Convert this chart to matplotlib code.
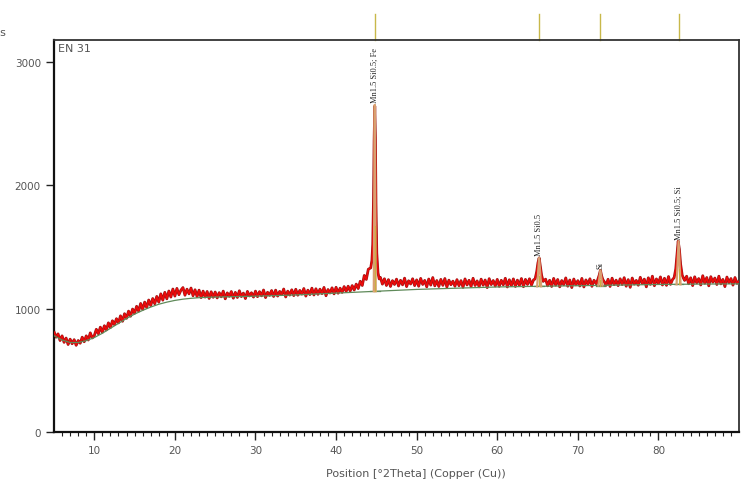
import numpy as np
import matplotlib.pyplot as plt
from matplotlib import transforms

# measured scan, 0.25 deg steps from 5 to 90
scan_start = 5.0
scan_step = 0.25
scan_counts = [
    812, 768, 795, 741, 779, 726, 761, 709, 752, 715,
    748, 702, 741, 719, 768, 731, 779, 745, 803, 762,
    781, 832, 796, 849, 808, 861, 827, 884, 846, 901,
    869, 918, 884, 941, 897, 958, 921, 979, 938, 996,
    962, 1018, 979, 1041, 993, 1052, 1008, 1069, 1024, 1081,
    1039, 1098, 1052, 1119, 1068, 1131, 1079, 1142, 1093, 1158,
    1101, 1163, 1112, 1149, 1170, 1108, 1157, 1119, 1166, 1104,
    1152, 1097, 1149, 1089, 1141, 1093, 1138, 1082, 1136, 1091,
    1134, 1086, 1129, 1095, 1141, 1079, 1127, 1099, 1138, 1084,
    1131, 1090, 1144, 1097, 1125, 1081, 1139, 1102, 1128, 1093,
    1141, 1096, 1137, 1103, 1150, 1089, 1132, 1107, 1146, 1098,
    1149, 1101, 1139, 1112, 1158, 1094, 1141, 1109, 1152, 1105,
    1156, 1108, 1147, 1117, 1162, 1101, 1149, 1113, 1165, 1110,
    1160, 1115, 1157, 1121, 1171, 1104, 1154, 1126, 1168, 1119,
    1172, 1124, 1165, 1131, 1178, 1139, 1181, 1142, 1186, 1150,
    1198, 1162, 1221, 1187, 1268, 1236, 1318, 1289, 1380, 2500,
    2000, 1280, 1252, 1198, 1241, 1187, 1234, 1179, 1226, 1195,
    1238, 1183, 1229, 1192, 1246, 1178, 1225, 1199, 1241, 1186,
    1232, 1181, 1244, 1195, 1228, 1176, 1239, 1190, 1251, 1184,
    1227, 1179, 1236, 1188, 1243, 1174, 1230, 1193, 1222, 1181,
    1234, 1185, 1226, 1172, 1240, 1191, 1229, 1178, 1245, 1187,
    1224, 1176, 1238, 1189, 1231, 1170, 1242, 1194, 1227, 1183,
    1236, 1180, 1229, 1192, 1245, 1175, 1233, 1186, 1240, 1179,
    1230, 1188, 1243, 1177, 1236, 1195, 1241, 1190, 1232, 1300,
    1380, 1400, 1300, 1230, 1238, 1184, 1229, 1179, 1244, 1190,
    1235, 1176, 1227, 1193, 1248, 1181, 1231, 1170, 1239, 1192,
    1226, 1183, 1244, 1175, 1232, 1196, 1241, 1180, 1229, 1201,
    1260, 1300, 1270, 1230, 1188, 1237, 1179, 1246, 1193, 1230,
    1186, 1241, 1195, 1250, 1181, 1234, 1172, 1247, 1198, 1228,
    1189, 1253, 1201, 1238, 1176, 1249, 1196, 1262, 1185, 1240,
    1203, 1256, 1191, 1245, 1188, 1259, 1196, 1235, 1330, 1400,
    1545, 1450, 1300, 1228, 1262, 1201, 1249, 1186, 1257, 1208,
    1243, 1191, 1266, 1205, 1251, 1184, 1258, 1213, 1247, 1195,
    1262, 1200, 1236, 1178, 1255, 1209, 1243, 1190, 1251, 1204,
    1222,
]

# finer points across the reflections
peak_theta = [
    [44.3, 44.45, 44.55, 44.65, 44.72, 44.8, 44.88, 44.95, 45.05, 45.2, 45.35],
    [64.7, 64.9, 65.05, 65.2, 65.35, 65.5, 65.7],
    [72.3, 72.5, 72.65, 72.8, 72.95, 73.1, 73.3],
    [81.95, 82.15, 82.3, 82.45, 82.6, 82.75, 82.95, 83.15],
]
peak_counts = [
    [1330, 1390, 1520, 1900, 2350, 2640, 2380, 1850, 1450, 1290, 1240],
    [1240, 1300, 1370, 1410, 1340, 1270, 1220],
    [1200, 1240, 1270, 1310, 1265, 1235, 1215],
    [1250, 1320, 1430, 1545, 1480, 1360, 1270, 1240],
]

peak_pos = [44.8, 65.2, 72.8, 82.5]
peak_height = [2650, 1410, 1310, 1545]
peak_base = [1140, 1180, 1186, 1196]
peak_labels = ["Mn1.5 Si0.5; Fe", "Mn1.5 Si0.5", "Si", "Mn1.5 Si0.5; Si"]

bg_theta = [5, 6, 7, 8, 9, 10, 11, 12, 13, 14, 15, 16, 17, 18, 19, 20, 21, 22, 23, 24,
            25, 27, 30, 35, 40, 45, 50, 55, 60, 65, 70, 75, 80, 85, 90]
bg_counts = [780, 745, 725, 725, 740, 765, 800, 840, 880, 920, 955, 985, 1012, 1035, 1052,
             1066, 1076, 1083, 1088, 1091, 1093, 1096, 1100, 1110, 1125, 1140, 1155, 1165,
             1175, 1180, 1185, 1190, 1195, 1198, 1200]

# merge grid with peak points
grid = scan_start + scan_step * np.arange(len(scan_counts))
cnt = np.array(scan_counts, dtype=float)
keep = np.ones(len(grid), bool)
for p in peak_pos:
    keep &= np.abs(grid - p) > 0.56
theta = np.concatenate([grid[keep]] + [np.array(t) for t in peak_theta])
counts = np.concatenate([cnt[keep]] + [np.array(c, float) for c in peak_counts])
order = np.argsort(theta)
theta, counts = theta[order], counts[order]

fig = plt.figure(figsize=(7.44, 4.89), dpi=100)
ax = fig.add_axes([0.0726, 0.1145, 0.9207, 0.8016])

ax.plot(theta, counts, color="#9a1515", lw=2.0, zorder=2)
ax.plot(theta, counts, color="#ee0a0a", lw=1.1, zorder=3)
ax.plot(bg_theta, bg_counts, color="#5f8a5a", lw=0.9, zorder=4)

for p, h, b, lab in zip(peak_pos, peak_height, peak_base, peak_labels):
    w = 0.12 if p < 50 else 0.25
    ax.plot([p - w, p, p + w], [b, h, b], color="#d9a070", lw=1.6, zorder=5)
    ax.plot([p - 0.6, p + 0.6], [b, b], color="#5f8a5a", lw=0.9, zorder=4)
    ax.plot([p, p], [b, b + 0.35 * (h - b)], color="#c8b040", lw=0.8, zorder=6)
    ax.text(p, h + 20, lab, rotation=90, ha="center", va="bottom",
            fontsize=6, family="Liberation Serif", color="#222222", zorder=7)

# reference markers above the plot
trans = transforms.blended_transform_factory(ax.transData, ax.transAxes)
for p in peak_pos:
    ax.plot([p, p], [1.0, 1.066], transform=trans, color="#c8b84a", lw=1.0, clip_on=False)

ax.set_xlim(5, 90)
ax.set_ylim(0, 3175)
ax.set_yticks([0, 1000, 2000, 3000])
ax.set_xticks(range(10, 90, 10))
ax.set_xticks(range(6, 90, 1), minor=True)
ax.tick_params(axis="both", which="major", length=6, width=1, labelsize=7.5,
               labelcolor="#555555", color="#222222")
ax.tick_params(axis="x", which="minor", length=3, width=0.8, color="#222222")
for lab in ax.get_xticklabels() + ax.get_yticklabels():
    lab.set_family("Liberation Sans Narrow")
for s in ["left", "bottom"]:
    ax.spines[s].set_linewidth(1.6)
    ax.spines[s].set_color("#111111")
for s in ["top", "right"]:
    ax.spines[s].set_linewidth(1.3)
    ax.spines[s].set_color("#333333")

ax.set_xlabel("Position [°2Theta] (Copper (Cu))", fontsize=8, color="#555555",
              family="Liberation Sans Narrow")
ax.xaxis.set_label_coords(0.528, -0.092)
ax.text(0.006, 0.993, "EN 31", transform=ax.transAxes, ha="left", va="top",
        fontsize=8, color="#555555", family="Liberation Sans Narrow")
fig.text(6 / 744, 1 - 33 / 489, "Counts", ha="right", va="center",
         fontsize=8, color="#555555", family="Liberation Sans Narrow")

fig.savefig("out.png", dpi=100)
